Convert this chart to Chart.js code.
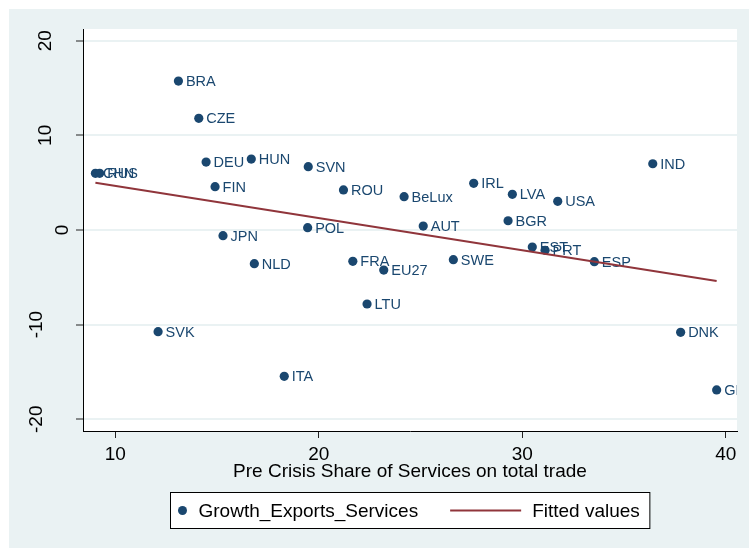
<!DOCTYPE html>
<html>
<head>
<meta charset="utf-8">
<script src="https://cdn.jsdelivr.net/npm/chart.js@4.4.1/dist/chart.umd.min.js"></script>
<style>
  html, body { margin: 0; padding: 0; background: #fff; }
  canvas { display: block; }
</style>
</head>
<body>
<canvas id="chart" width="749" height="548"></canvas>
<script>
const countries = ['BRA', 'CZE', 'DEU', 'HUN', 'SVN', 'CHN', 'RUS', 'FIN', 'JPN', 'NLD',
  'POL', 'ROU', 'BeLux', 'IRL', 'LVA', 'USA', 'IND', 'AUT', 'BGR', 'FRA',
  'EU27', 'SWE', 'LTU', 'EST', 'PRT', 'ESP', 'SVK', 'ITA', 'DNK', 'GBR'];
const preCrisisShare = [13.10, 14.10, 14.46, 16.68, 19.48, 9.02, 9.23, 14.90, 15.29, 16.83,
  19.45, 21.21, 24.19, 27.61, 29.51, 31.74, 36.41, 25.13, 29.30, 21.67,
  23.19, 26.61, 22.37, 30.49, 31.12, 33.54, 12.10, 18.30, 37.78, 39.55];
const growthExports = [15.74, 11.80, 7.18, 7.50, 6.69, 5.99, 5.99, 4.58, -0.60, -3.56,
  0.25, 4.23, 3.52, 4.93, 3.77, 3.03, 7.00, 0.42, 0.98, -3.31,
  -4.23, -3.14, -7.82, -1.80, -2.15, -3.35, -10.74, -15.46, -10.81, -16.90];
const fitShare = [9.02, 39.55];
const fitValues = [5.00, -5.39];
const xTicks = [10, 20, 30, 40];
const yTicks = [-20, -10, 0, 10, 20];

const navy = '#1a476f';
const maroon = '#90353b';
const panel = '#eaf2f3';
const family = "'Liberation Sans', Arial, sans-serif";

const points = countries.map((c, i) => ({ x: preCrisisShare[i], y: growthExports[i] }));
const fitted = fitShare.map((x, i) => ({ x: x, y: fitValues[i] }));

// stata style panel + white plot region, and y label placement
const background = {
  id: 'background',
  beforeDraw(chart) {
    const { ctx, chartArea: a } = chart;
    ctx.save();
    ctx.fillStyle = '#fff';
    ctx.fillRect(0, 0, chart.width, chart.height);
    ctx.fillStyle = panel;
    ctx.fillRect(9, 9, chart.width - 9, chart.height - 9);
    ctx.fillStyle = '#fff';
    ctx.fillRect(a.left, a.top, a.right - a.left, a.bottom - a.top);
    // vertical labels are anchored by their width like stata does
    const ys = chart.scales.y;
    ctx.font = '19px ' + family;
    ys.getLabelItems().forEach(item => {
      const w = ctx.measureText(item.label).width;
      item.options.translation[0] = ys.right - 4 - 1.55 * w;
    });
    ctx.restore();
  }
};

// country names next to the markers
const pointLabels = {
  id: 'pointLabels',
  afterDatasetDraw(chart, args) {
    if (args.index !== 0) return;
    const { ctx, chartArea: a } = chart;
    ctx.save();
    ctx.beginPath();
    ctx.rect(a.left, a.top, a.right - a.left, a.bottom - a.top);
    ctx.clip();
    ctx.font = '14.5px ' + family;
    ctx.fillStyle = navy;
    ctx.textAlign = 'left';
    ctx.textBaseline = 'middle';
    args.meta.data.forEach((el, i) => {
      ctx.fillText(countries[i], el.x + 7.5, el.y + 1);
    });
    ctx.restore();
  }
};

// boxed legend under the axis title
const boxLegend = {
  id: 'boxLegend',
  afterDraw(chart) {
    const { ctx, chartArea: a } = chart;
    const ds = chart.data.datasets;
    ctx.save();
    ctx.font = '19px ' + family;
    const w1 = ctx.measureText(ds[0].label).width;
    const w2 = ctx.measureText(ds[1].label).width;
    const total = 12 + 16 + w1 + 32 + 71 + 11 + w2 + 10;
    const left = Math.round((a.left + a.right) / 2 - total / 2) + 0.5;
    const top = chart.scales.x.bottom + 9.5;
    const h = 36;
    const mid = top + h / 2;
    ctx.fillStyle = '#fff';
    ctx.fillRect(left, top, total, h);
    ctx.strokeStyle = '#000';
    ctx.lineWidth = 1;
    ctx.strokeRect(left, top, total, h);
    ctx.fillStyle = navy;
    ctx.beginPath();
    ctx.arc(left + 12, mid, 4.5, 0, Math.PI * 2);
    ctx.fill();
    ctx.fillStyle = '#000';
    ctx.textBaseline = 'middle';
    ctx.fillText(ds[0].label, left + 28, mid + 1);
    const lx = left + 28 + w1 + 32;
    ctx.strokeStyle = maroon;
    ctx.lineWidth = 2;
    ctx.beginPath();
    ctx.moveTo(lx, mid);
    ctx.lineTo(lx + 71, mid);
    ctx.stroke();
    ctx.fillText(ds[1].label, lx + 71 + 11, mid + 1);
    ctx.restore();
  }
};

const ctx = document.getElementById('chart');
new Chart(ctx, {
  type: 'scatter',
  data: {
    datasets: [{
      label: 'Growth_Exports_Services',
      data: points,
      backgroundColor: navy,
      borderWidth: 0,
      pointRadius: 4.6,
      pointHoverRadius: 4.6,
      order: 1
    },
    {
      label: 'Fitted values',
      data: fitted,
      showLine: true,
      borderColor: maroon,
      borderWidth: 2,
      pointRadius: 0,
      order: 0
    }]
  },
  options: {
    responsive: false,
    animation: false,
    layout: { padding: { left: 0, top: 29, right: 12, bottom: 65 } },
    scales: {
      x: {
        type: 'linear',
        min: 8.41,
        max: 40.55,
        afterBuildTicks: s => { s.ticks = xTicks.map(v => ({ value: v })); },
        afterFit: s => { s.height = 52; },
        grid: { drawOnChartArea: false, tickLength: 7, tickColor: '#222', tickWidth: 1 },
        border: { color: '#000', width: 1 },
        ticks: { color: '#000', font: { family: family, size: 19 }, padding: 5, maxRotation: 0, autoSkip: false },
        title: {
          display: true,
          text: 'Pre Crisis Share of Services on total trade',
          color: '#000',
          font: { family: family, size: 19 },
          padding: 0
        }
      },
      y: {
        type: 'linear',
        min: -21.24,
        max: 21.24,
        afterBuildTicks: s => { s.ticks = yTicks.map(v => ({ value: v })); },
        afterFit: s => { s.width = 83; },
        grid: { color: panel, lineWidth: 2, tickLength: 7, tickColor: '#222', tickWidth: 1 },
        border: { color: '#000', width: 1 },
        ticks: {
          color: '#000',
          font: { family: family, size: 19 },
          minRotation: 90,
          maxRotation: 90,
          crossAlign: 'center',
          autoSkip: false
        }
      }
    },
    plugins: {
      legend: { display: false },
      tooltip: { enabled: false }
    }
  },
  plugins: [background, pointLabels, boxLegend]
});
</script>
</body>
</html>
